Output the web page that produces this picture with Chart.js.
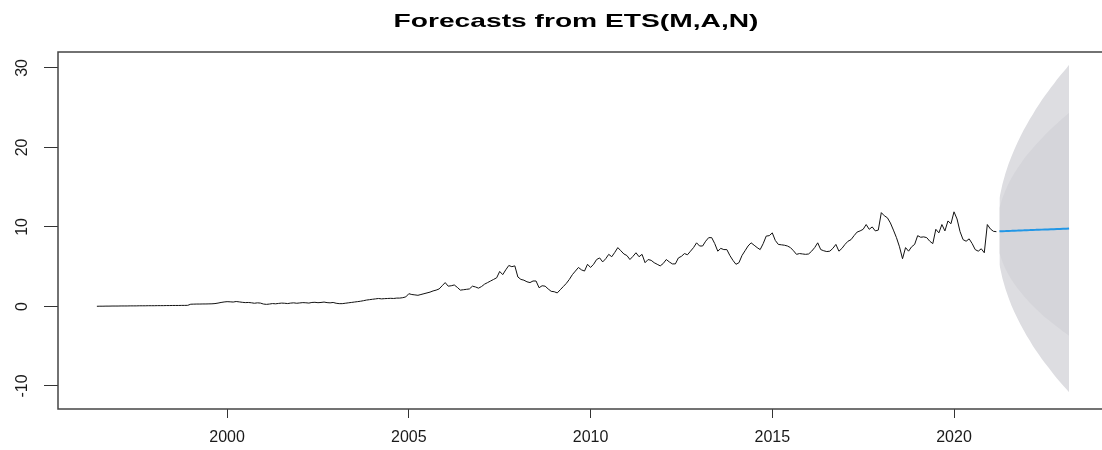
<!DOCTYPE html>
<html lang="en">
<head>
  <meta charset="UTF-8" />
  <title>Forecasts from ETS(M,A,N)</title>
  <script src="https://cdn.jsdelivr.net/npm/chart.js"></script>
  <style>
    html, body { margin: 0; padding: 0; background: #fff; overflow: hidden; }
  </style>
</head>
<body>
  <canvas id="graphique" width="1112" height="450"></canvas>

  <script>
    const titleText = 'Forecasts from ETS(M,A,N)';

    // observed monthly series, Jun 1996 .. Mar 2021
    const obsStart = 1996 + 5 / 12;
    const observed = [
      0.02, 0.03, 0.03, 0.04, 0.04, 0.05, 0.05,
      0.05, 0.06, 0.06, 0.06, 0.07, 0.07, 0.07, 0.08, 0.08, 0.08, 0.09, 0.09,
      0.09, 0.10, 0.10, 0.10, 0.11, 0.11, 0.12, 0.12, 0.12, 0.13, 0.13, 0.14,
      0.28, 0.29, 0.30, 0.30, 0.31, 0.31, 0.32, 0.33, 0.36, 0.42, 0.50, 0.56,
      0.60, 0.58, 0.55, 0.62, 0.57, 0.52, 0.48, 0.50, 0.46, 0.40, 0.45, 0.42,
      0.30, 0.26, 0.30, 0.36, 0.33, 0.38, 0.42, 0.40, 0.36, 0.42, 0.45, 0.40,
      0.44, 0.48, 0.46, 0.42, 0.50, 0.52, 0.47, 0.50, 0.55, 0.48, 0.45, 0.50,
      0.40, 0.35, 0.35, 0.40, 0.45, 0.50, 0.55, 0.60, 0.65, 0.72, 0.80, 0.85,
      0.90, 0.95, 1.00, 0.95, 0.98, 1.00, 1.02, 1.00, 1.05, 1.05, 1.10, 1.20,
      1.60, 1.50, 1.45, 1.40, 1.50, 1.60, 1.70, 1.80, 1.95, 2.05, 2.20, 2.60,
      3.00, 2.55, 2.60, 2.70, 2.40, 2.05, 2.10, 2.15, 2.20, 2.55, 2.45, 2.30,
      2.50, 2.80, 3.00, 3.20, 3.40, 3.60, 4.40, 4.00, 4.60, 5.15, 5.00, 5.10,
      3.70, 3.40, 3.30, 3.10, 3.00, 3.20, 3.20, 2.35, 2.60, 2.55, 2.20, 1.90,
      1.85, 1.70, 2.10, 2.50, 2.90, 3.40, 4.00, 4.45, 4.90, 4.60, 4.45, 5.30,
      4.90, 5.30, 5.90, 6.10, 5.60, 6.00, 6.55, 6.25, 6.80, 7.40, 7.00, 6.60,
      6.40, 5.90, 6.30, 6.75, 6.25, 6.55, 5.50, 5.90, 5.80, 5.50, 5.30, 5.10,
      5.40, 5.90, 5.60, 5.35, 5.35, 6.10, 6.30, 6.65, 6.50, 6.95, 7.40, 8.00,
      7.60, 7.60, 8.20, 8.65, 8.65, 7.90, 6.95, 7.30, 7.15, 7.15, 6.40, 5.80,
      5.30, 5.50, 6.40, 7.00, 7.60, 8.00, 7.70, 7.40, 7.15, 7.90, 8.85, 8.90,
      9.25, 8.30, 7.80, 7.75, 7.70, 7.60, 7.40, 7.00, 6.55, 6.65, 6.60, 6.55,
      6.60, 6.95, 7.40, 8.00, 7.15, 7.00, 6.90, 6.95, 7.30, 7.80, 6.95, 7.30,
      7.80, 8.20, 8.40, 8.90, 9.35, 9.50, 9.70, 10.30, 9.70, 10.00, 9.50, 9.60,
      11.80, 11.40, 11.15, 10.50, 9.60, 8.65, 7.50, 6.00, 7.40, 6.95, 7.50, 7.80,
      8.90, 8.70, 8.75, 8.65, 8.20, 7.90, 9.70, 9.25, 10.30, 9.50, 10.75, 10.40,
      11.90, 11.00, 9.40, 8.40, 8.20, 8.50, 7.90, 7.15, 6.95, 7.25, 6.75, 10.30,
      9.75, 9.45, 9.40
    ];

    // 24 month forecast, Apr 2021 .. Mar 2023
    const fcStart = 2021 + 3 / 12;
    const fcMean = [9.45, 9.47, 9.48, 9.50, 9.51, 9.53, 9.54, 9.56, 9.57, 9.59, 9.60, 9.62,
                    9.63, 9.65, 9.66, 9.68, 9.69, 9.71, 9.72, 9.74, 9.75, 9.77, 9.78, 9.80];
    const fcHi80 = [12.4, 13.65, 14.6, 15.45, 16.15, 16.8, 17.4, 17.95, 18.5, 19.0, 19.45, 19.9,
                    20.35, 20.75, 21.15, 21.55, 21.95, 22.3, 22.65, 23.0, 23.35, 23.7, 24.0, 24.35];
    const fcLo80 = [6.7, 5.6, 4.7, 4.0, 3.35, 2.8, 2.25, 1.8, 1.3, 0.9, 0.45, 0.1,
                    -0.3, -0.65, -1.0, -1.35, -1.65, -1.95, -2.25, -2.55, -2.85, -3.15, -3.4, -3.7];
    const fcHi95 = [13.65, 15.4, 16.75, 17.9, 18.9, 19.8, 20.65, 21.45, 22.2, 22.85, 23.55, 24.15,
                    24.8, 25.35, 25.95, 26.5, 27.0, 27.55, 28.0, 28.55, 29.0, 29.45, 29.9, 30.4];
    const fcLo95 = [5.25, 3.5, 2.2, 1.1, 0.1, -0.75, -1.55, -2.3, -3.0, -3.7, -4.3, -4.95,
                    -5.5, -6.05, -6.6, -7.1, -7.6, -8.1, -8.6, -9.05, -9.5, -9.95, -10.35, -10.8];

    const xTickYears = [2000, 2005, 2010, 2015, 2020];
    const yTickValues = [-10, 0, 10, 20, 30];

    const toXY = (start, arr) => arr.map((v, i) => ({ x: start + i / 12, y: v }));

    const fontFamily = '"Liberation Sans", Arial, sans-serif';

    // box round the plot, rotated y labels and the title (R style)
    const rStyle = {
      id: 'rStyle',
      afterDraw(chart) {
        const ctx = chart.ctx;
        const a = chart.chartArea;
        ctx.save();
        ctx.strokeStyle = '#444';
        ctx.lineWidth = 1.5;
        ctx.strokeRect(a.left, a.top, a.right - a.left, a.bottom - a.top);

        const ys = chart.scales.y;
        ctx.fillStyle = '#1a1a1a';
        ctx.font = '16px ' + fontFamily;
        ctx.textAlign = 'center';
        ctx.textBaseline = 'middle';
        ys.ticks.forEach(t => {
          const py = ys.getPixelForValue(t.value);
          ctx.save();
          ctx.translate(23, py);
          ctx.rotate(-Math.PI / 2);
          ctx.fillText(String(t.value), 0, 0);
          ctx.restore();
        });

        ctx.font = 'bold 19px ' + fontFamily;
        ctx.textBaseline = 'alphabetic';
        const w = ctx.measureText(titleText).width;
        ctx.translate(576, 27);
        ctx.scale(365 / w, 1);
        ctx.fillStyle = '#000';
        ctx.fillText(titleText, 0, 0);
        ctx.restore();
      }
    };

    const ctx = document.getElementById('graphique').getContext('2d');

    new Chart(ctx, {
      type: 'line',
      data: {
        datasets: [
          {
            label: 'forecast',
            data: toXY(fcStart, fcMean),
            borderColor: '#2297E6',
            borderWidth: 2,
            pointRadius: 0,
            fill: false
          },
          {
            label: 'observed',
            data: toXY(obsStart, observed),
            borderColor: '#111',
            borderWidth: 1,
            pointRadius: 0,
            fill: false
          },
          {
            label: 'hi80',
            data: toXY(fcStart, fcHi80),
            borderWidth: 0,
            borderColor: 'transparent',
            pointRadius: 0,
            backgroundColor: '#d5d5da',
            fill: '+1'
          },
          {
            label: 'lo80',
            data: toXY(fcStart, fcLo80),
            borderWidth: 0,
            borderColor: 'transparent',
            pointRadius: 0,
            fill: false
          },
          {
            label: 'hi95',
            data: toXY(fcStart, fcHi95),
            borderWidth: 0,
            borderColor: 'transparent',
            pointRadius: 0,
            backgroundColor: '#dddde1',
            fill: '+1'
          },
          {
            label: 'lo95',
            data: toXY(fcStart, fcLo95),
            borderWidth: 0,
            borderColor: 'transparent',
            pointRadius: 0,
            fill: false
          }
        ]
      },
      options: {
        responsive: false,
        animation: false,
        layout: { padding: { top: 52, right: 4, left: 0, bottom: 0 } },
        plugins: {
          legend: { display: false },
          tooltip: { enabled: false },
          title: { display: false }
        },
        scales: {
          x: {
            type: 'linear',
            min: 1995.347,
            max: 2024.237,
            afterBuildTicks: s => { s.ticks = xTickYears.map(v => ({ value: v })); },
            afterFit: s => { s.height = 41; },
            ticks: {
              callback: v => String(v),
              font: { family: fontFamily, size: 16 },
              color: '#1a1a1a',
              padding: 10,
              autoSkip: false,
              maxRotation: 0
            },
            grid: { drawOnChartArea: false, drawTicks: true, tickLength: 9, color: '#333', tickWidth: 1 },
            border: { display: false }
          },
          y: {
            min: -12.9,
            max: 32,
            afterBuildTicks: s => { s.ticks = yTickValues.map(v => ({ value: v })); },
            afterFit: s => { s.width = 58; },
            ticks: { display: false },
            grid: { drawOnChartArea: false, drawTicks: true, tickLength: 14, color: '#333', tickWidth: 1 },
            border: { display: false }
          }
        }
      },
      plugins: [rStyle]
    });
  </script>
</body>
</html>
